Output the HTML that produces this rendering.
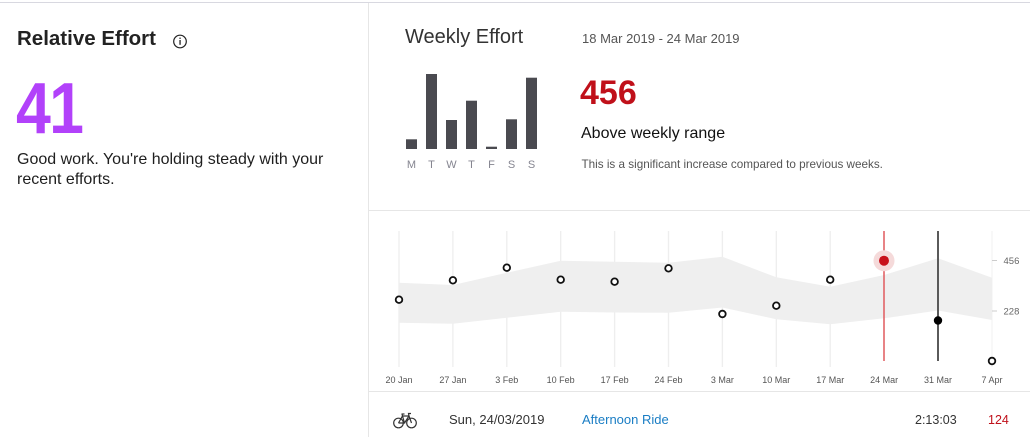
<!DOCTYPE html>
<html><head><meta charset="utf-8"><style>
html,body{margin:0;padding:0;background:#fff;}
body{width:1030px;height:437px;position:relative;overflow:hidden;font-family:"Liberation Sans",sans-serif;}
.t{position:absolute;line-height:1;white-space:nowrap;}
svg{position:absolute;left:0;top:0;}
</style></head><body>
<svg width="1030" height="437" viewBox="0 0 1030 437" xmlns="http://www.w3.org/2000/svg">
  <!-- borders -->
  <rect x="0" y="2" width="1030" height="1" fill="#d8d8e0"/>
  <rect x="368" y="3" width="1" height="434" fill="#e6e6e6"/>
  <rect x="369" y="210" width="661" height="1" fill="#e6e6e6"/>
  <rect x="369" y="391" width="661" height="1" fill="#e6e6e6"/>
  <!-- info icon -->
  <circle cx="180" cy="41.5" r="6.3" fill="none" stroke="#222" stroke-width="1.2"/>
  <rect x="179.4" y="40" width="1.3" height="4.8" fill="#222"/>
  <rect x="179.4" y="37.6" width="1.3" height="1.3" fill="#222"/>
  <!-- weekly bars -->
  <g fill="#4a4a50">
    <rect x="406" y="139.3" width="11" height="9.7"/>
    <rect x="426" y="74" width="11" height="75"/>
    <rect x="446" y="120" width="11" height="29"/>
    <rect x="466" y="100.7" width="11" height="48.3"/>
    <rect x="486" y="146.7" width="11" height="2.3"/>
    <rect x="506" y="119.3" width="11" height="29.7"/>
    <rect x="526" y="77.7" width="11" height="71.3"/>
  </g>
  <g font-family="Liberation Sans, sans-serif" font-size="11" fill="#858590" text-anchor="middle">
    <text x="411.5" y="168">M</text><text x="431.5" y="168">T</text><text x="451.5" y="168">W</text>
    <text x="471.5" y="168">T</text><text x="491.5" y="168">F</text><text x="511.5" y="168">S</text>
    <text x="531.5" y="168">S</text>
  </g>
  <!-- chart gridlines -->
  <g stroke="#eeeeee" stroke-width="1.3">
    <line x1="399" y1="231" x2="399" y2="367"/>
    <line x1="452.9" y1="231" x2="452.9" y2="367"/>
    <line x1="506.8" y1="231" x2="506.8" y2="367"/>
    <line x1="560.7" y1="231" x2="560.7" y2="367"/>
    <line x1="614.6" y1="231" x2="614.6" y2="367"/>
    <line x1="668.5" y1="231" x2="668.5" y2="367"/>
    <line x1="722.4" y1="231" x2="722.4" y2="367"/>
    <line x1="776.3" y1="231" x2="776.3" y2="367"/>
    <line x1="830.2" y1="231" x2="830.2" y2="367"/>
    <line x1="992" y1="231" x2="992" y2="367" stroke="#f4f4f4"/>
  </g>
  <!-- band -->
  <polygon fill="#efefef" points="399,282.7 452.9,285 506.8,272.8 560.7,260.7 614.6,261.7 668.5,262.7 722.4,256.7 776.3,277.3 830.2,286.7 884.1,275 938,258.3 992,277.8 992,320 938,310.5 884.1,318.3 830.2,324.3 776.3,319.3 722.4,307.5 668.5,312.7 614.6,312.5 560.7,311.7 506.8,317.7 452.9,323.7 399,322.7"/>
  <!-- y ticks -->
  <g stroke="#cccccc" stroke-width="1">
    <line x1="992" y1="260.5" x2="997" y2="260.5"/>
    <line x1="992" y1="311" x2="997" y2="311"/>
  </g>
  <g font-family="Liberation Sans, sans-serif" font-size="9.5" fill="#666">
    <text x="1003.5" y="263.8">456</text>
    <text x="1003.5" y="314.3">228</text>
  </g>
  <!-- vertical markers -->
  <line x1="884" y1="231" x2="884" y2="361" stroke="#e05a5e" stroke-width="1.5"/>
  <line x1="938" y1="231" x2="938" y2="361" stroke="#5a5a5a" stroke-width="2"/>
  <!-- points -->
  <g fill="#fff" stroke="#111" stroke-width="1.8">
    <circle cx="399" cy="299.7" r="3.3"/>
    <circle cx="452.9" cy="280.3" r="3.3"/>
    <circle cx="506.8" cy="267.7" r="3.3"/>
    <circle cx="560.7" cy="279.7" r="3.3"/>
    <circle cx="614.6" cy="281.7" r="3.3"/>
    <circle cx="668.5" cy="268.3" r="3.3"/>
    <circle cx="722.4" cy="314" r="3.3"/>
    <circle cx="776.3" cy="305.7" r="3.3"/>
    <circle cx="830.2" cy="279.7" r="3.3"/>
    <circle cx="992" cy="361" r="3.3"/>
  </g>
  <circle cx="884" cy="260.7" r="10.5" fill="#f5dada"/>
  <circle cx="884" cy="260.7" r="5" fill="#c8101a"/>
  <circle cx="938" cy="320.5" r="4.2" fill="#000"/>
  <!-- x labels -->
  <g font-family="Liberation Sans, sans-serif" font-size="9" fill="#555" text-anchor="middle">
    <text x="399" y="383">20 Jan</text>
    <text x="452.9" y="383">27 Jan</text>
    <text x="506.8" y="383">3 Feb</text>
    <text x="560.7" y="383">10 Feb</text>
    <text x="614.6" y="383">17 Feb</text>
    <text x="668.5" y="383">24 Feb</text>
    <text x="722.4" y="383">3 Mar</text>
    <text x="776.3" y="383">10 Mar</text>
    <text x="830.2" y="383">17 Mar</text>
    <text x="884.1" y="383">24 Mar</text>
    <text x="938" y="383">31 Mar</text>
    <text x="992" y="383">7 Apr</text>
  </g>
  <!-- bike icon -->
  <g fill="none" stroke="#333" stroke-width="1.2">
    <circle cx="398.5" cy="423" r="4.8"/>
    <circle cx="411.5" cy="423" r="4.8"/>
    <polyline points="398.5,423 402.5,416 409,416 411.5,423"/>
    <polyline points="398.5,423 404.5,423 402.5,416"/>
    <line x1="404.5" y1="423" x2="409" y2="416"/>
    <line x1="401.5" y1="414" x2="404.5" y2="414"/>
    <line x1="402.5" y1="416" x2="402" y2="414"/>
    <polyline points="409,416 408.5,413.5 411,413.5"/>
  </g>
</svg>

<div class="t" style="left:17px;top:29.3px;font-size:20.5px;font-weight:bold;color:#222;">Relative Effort</div>
<div class="t" style="left:16px;top:73.4px;font-size:72px;font-weight:bold;letter-spacing:-2px;color:#b241fa;transform:scaleX(0.87);transform-origin:0 0;">41</div>
<div style="position:absolute;left:17px;top:149.7px;width:335px;font-size:16px;line-height:20.5px;color:#1e1e1e;">Good work. You're holding steady with your recent efforts.</div>

<div class="t" style="left:405px;top:27.1px;font-size:20px;color:#333;">Weekly Effort</div>
<div class="t" style="left:582px;top:32.3px;font-size:13px;color:#555;">18 Mar 2019 - 24 Mar 2019</div>
<div class="t" style="left:580px;top:76.2px;font-size:34px;font-weight:bold;color:#c0101a;">456</div>
<div class="t" style="left:581px;top:125.5px;font-size:16px;color:#111;">Above weekly range</div>
<div class="t" style="left:581.5px;top:158.6px;font-size:11.7px;color:#555;">This is a significant increase compared to previous weeks.</div>

<div class="t" style="left:449px;top:413.3px;font-size:13px;color:#333;">Sun, 24/03/2019</div>
<div class="t" style="left:582px;top:413.3px;font-size:13px;color:#1a7dc4;">Afternoon Ride</div>
<div class="t" style="left:915px;top:413.8px;font-size:12.5px;color:#333;">2:13:03</div>
<div class="t" style="left:988px;top:413.8px;font-size:12.5px;color:#c0101a;">124</div>
</body></html>
